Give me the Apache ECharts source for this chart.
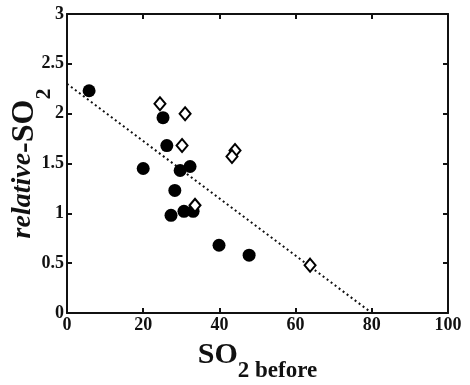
<!DOCTYPE html>
<html>
<head>
<meta charset="utf-8">
<script src="https://cdn.jsdelivr.net/npm/echarts@6/dist/echarts.min.js"></script>
<style>
  html, body { margin: 0; padding: 0; background: #fff; }
  #chart { width: 470px; height: 385px; }
</style>
</head>
<body>
<div id="chart"></div>
<script>
// filled circles: [SO2 before, relative-SO2]
const circlePoints = [
  [5.8, 2.23], [25.2, 1.96], [26.2, 1.68], [20.0, 1.45], [29.7, 1.43],
  [32.3, 1.47], [28.3, 1.23], [27.3, 0.98], [30.7, 1.02], [33.1, 1.02],
  [39.9, 0.68], [47.8, 0.58]
];
// open diamonds
const diamondPoints = [
  [24.4, 2.10], [31.0, 2.00], [30.2, 1.68], [44.1, 1.63], [43.3, 1.57],
  [33.6, 1.08], [63.8, 0.48]
];
// dotted fit line
const fitLine = [[0, 2.3], [80, 0]];

const font = "Liberation Serif";
const ink = "#111";

const baseAxis = {
  axisLine: { show: true, onZero: false, lineStyle: { color: ink, width: 2 } },
  axisTick: { show: true, inside: true, length: 5, lineStyle: { color: ink, width: 2 } },
  splitLine: { show: false },
};

const option = {
  animation: false,
  backgroundColor: "#fff",
  grid: { left: 67, right: 22, top: 14, bottom: 72, outerBoundsMode: "none", containLabel: false },
  xAxis: [
    {
      ...baseAxis,
      type: "value", min: 0, max: 100, interval: 20,
      axisLabel: {
        color: ink, fontFamily: font, fontWeight: "bold", fontSize: 18, margin: 3,
        formatter: (v) => String(v),
      },
      name: "{a|SO}{b|2 before}",
      nameLocation: "middle",
      nameGap: 27,
      nameTextStyle: {
        rich: {
          a: { fontFamily: font, fontWeight: "bold", fontSize: 30, color: ink, lineHeight: 30, verticalAlign: "top" },
          b: { fontFamily: font, fontWeight: "bold", fontSize: 23, color: ink, lineHeight: 23, verticalAlign: "top", padding: [20, 0, 0, 0] },
        },
      },
    },
    {
      ...baseAxis,
      type: "value", min: 0, max: 100, interval: 20, position: "top",
      axisLabel: { show: false },
    },
  ],
  yAxis: [
    {
      ...baseAxis,
      type: "value", min: 0, max: 3, interval: 0.5,
      axisLabel: {
        color: ink, fontFamily: font, fontWeight: "bold", fontSize: 18, margin: 3,
        formatter: (v) => String(v),
      },
      name: "{i|relative}{n|-SO}{s|2}",
      nameLocation: "middle",
      nameRotate: 90,
      nameMoveOverlap: false,
      nameGap: 26,
      nameTextStyle: {
        rich: {
          i: { fontFamily: font, fontWeight: "bold", fontStyle: "italic", fontSize: 28, color: ink, lineHeight: 30, verticalAlign: "top" },
          n: { fontFamily: font, fontWeight: "bold", fontSize: 32, color: ink, lineHeight: 32, verticalAlign: "top" },
          s: { fontFamily: font, fontWeight: "bold", fontSize: 22, color: ink, lineHeight: 22, verticalAlign: "top", padding: [24, 0, 0, 0] },
        },
      },
    },
    {
      ...baseAxis,
      type: "value", min: 0, max: 3, interval: 0.5, position: "right",
      axisLabel: { show: false },
    },
  ],
  series: [
    {
      type: "line",
      data: fitLine,
      showSymbol: false,
      symbol: "none",
      lineStyle: { color: ink, width: 2, type: [2, 3] },
      z: 1,
    },
    {
      type: "scatter",
      data: circlePoints,
      symbol: "circle",
      symbolSize: 13,
      itemStyle: { color: "#000", opacity: 1 },
      z: 3,
    },
    {
      type: "scatter",
      data: diamondPoints,
      symbol: "diamond",
      symbolSize: [11, 13],
      itemStyle: { color: "#fff", borderColor: "#000", borderWidth: 2, opacity: 1 },
      z: 3,
    },
    // empty series so the top and right frame axes get drawn
    {
      type: "scatter",
      xAxisIndex: 1,
      yAxisIndex: 1,
      data: [],
    },
  ],
};

const myChart = echarts.init(document.getElementById("chart"));
myChart.setOption(option);
</script>
</body>
</html>
